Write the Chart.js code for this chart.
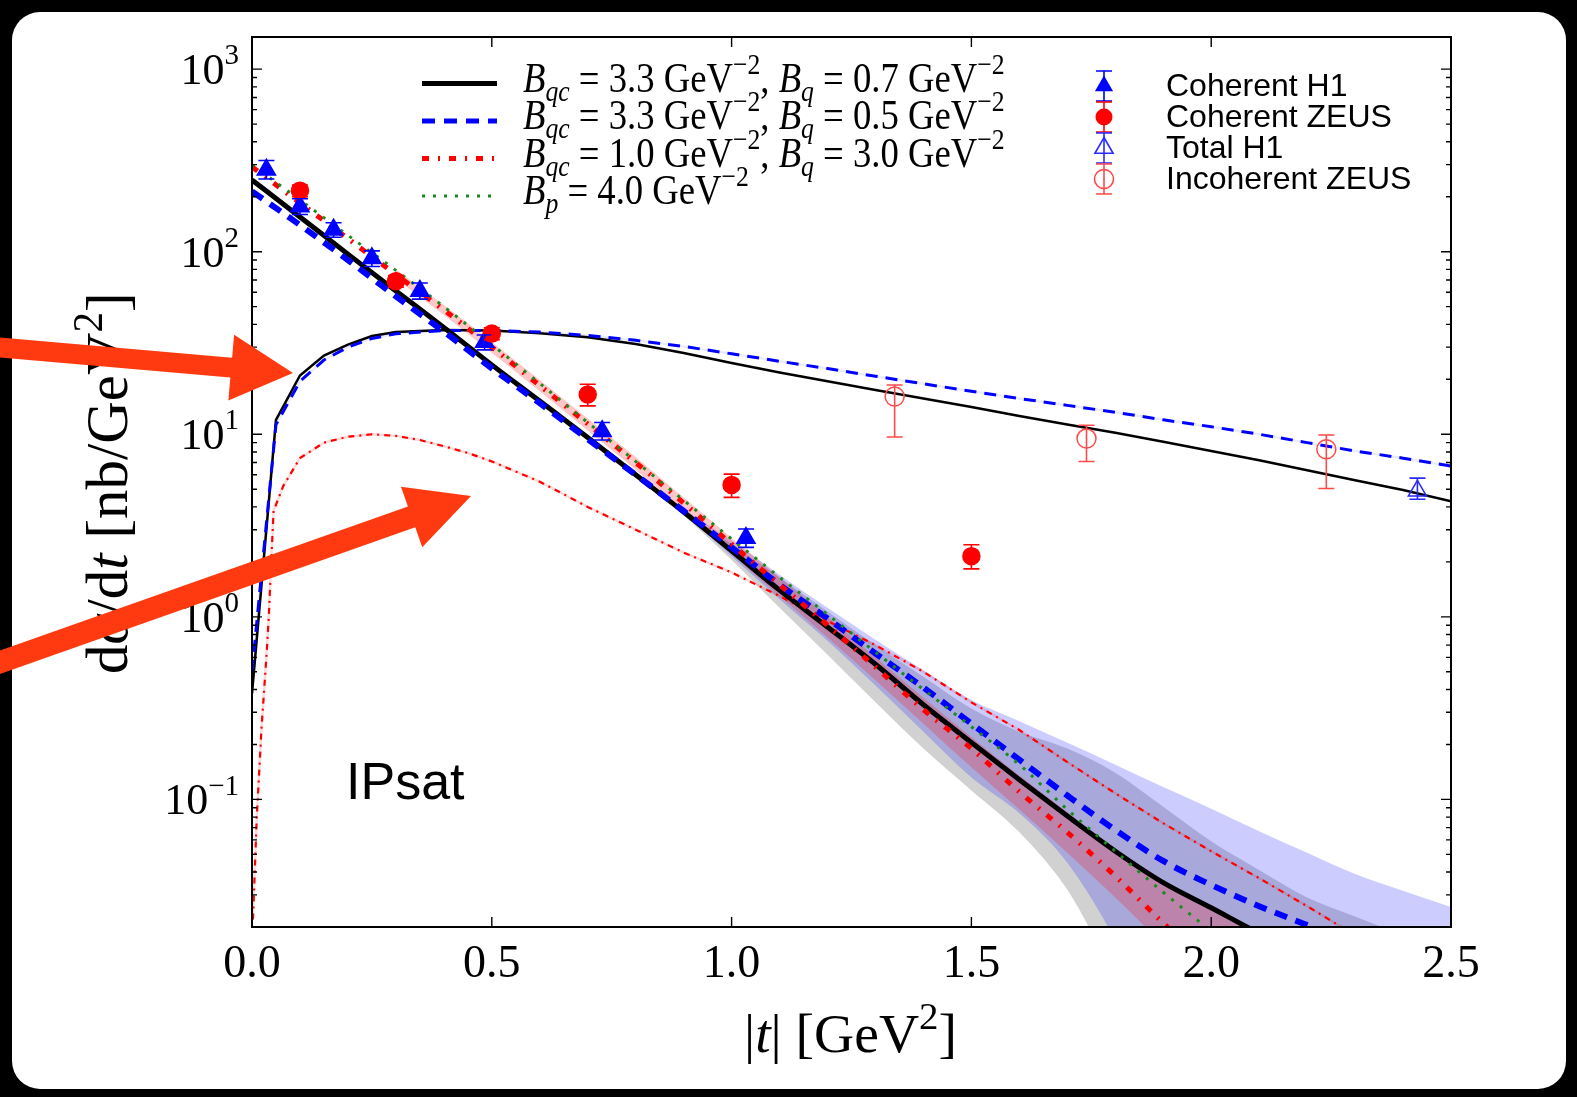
<!DOCTYPE html>
<html>
<head>
<meta charset="utf-8">
<script src="https://cdn.jsdelivr.net/npm/chart.js@4.4.1/dist/chart.umd.min.js"></script>
<style>
  html, body { margin: 0; padding: 0; background: #000; }
  #panel { position: absolute; left: 12px; top: 12px; width: 1554px; height: 1077px; background: #fff; border-radius: 28px; }
  #plot { position: absolute; left: 0; top: 0; }
</style>
</head>
<body>
<div id="panel"></div>
<canvas id="plot" width="1577" height="1097"></canvas>
<script>
// ---------- values ----------
// coherent curves, |t| grid
const tCoh = [0, 0.1, 0.2, 0.3, 0.4, 0.5, 0.6, 0.7, 0.8, 0.9, 1.0, 1.1, 1.2, 1.3, 1.4, 1.5, 1.6, 1.7, 1.8, 1.9, 2.0, 2.1, 2.2, 2.3];
const cohBlack = [247, 155, 97, 61, 38.5, 24, 15.2, 9.6, 6.0, 3.75, 2.3, 1.4, 0.88, 0.55, 0.33, 0.205, 0.128, 0.081, 0.052, 0.035, 0.0255, 0.0185, 0.014, 0.011];
const cohBlue = [214, 140, 90, 57, 36.5, 23, 14.8, 9.4, 6.0, 3.8, 2.4, 1.5, 0.98, 0.63, 0.41, 0.26, 0.165, 0.105, 0.068, 0.046, 0.034, 0.026, 0.0205, 0.016];
const cohRed = [292, 185, 118, 75, 48, 30, 18.5, 11.4, 7.0, 4.2, 2.5, 1.5, 0.9, 0.53, 0.31, 0.19, 0.11, 0.066, 0.038, 0.021, 0.012, 0.007, 0.004, 0.002];
const cohGreen = [300, 192, 123, 79, 50, 31, 19, 11.6, 7.1, 4.35, 2.67, 1.65, 1.03, 0.64, 0.40, 0.25, 0.155, 0.088, 0.052, 0.031, 0.019, 0.012, 0.008, 0.005];

// incoherent curves
const tInc = [0, 0.05, 0.1, 0.15, 0.2, 0.25, 0.3, 0.4, 0.5, 0.6, 0.7, 0.8, 0.9, 1.0, 1.1, 1.2, 1.3, 1.4, 1.5, 1.6, 1.7, 1.8, 1.9, 2.0, 2.1, 2.2, 2.3, 2.4, 2.5];
const incBlack = [0.38, 12, 21, 27, 31, 34.5, 36.3, 37.3, 37, 35.8, 34, 31.2, 27.9, 24.6, 21.8, 19.5, 17.5, 15.7, 14.1, 12.6, 11.3, 10.2, 9.1, 8.1, 7.2, 6.35, 5.6, 4.95, 4.3];
const incBlue = [0.5, 11.3, 19.5, 25.5, 30, 33.5, 35.5, 37, 37, 36.3, 34.8, 32.7, 30.3, 27.6, 25.1, 22.9, 20.8, 18.9, 17.2, 15.7, 14.4, 13.2, 12.0, 11.0, 10.0, 9.0, 8.1, 7.4, 6.7];
const tIncRed = [0.002, 0.01, 0.02, 0.03, 0.035, 0.04, 0.045, 0.065, 0.1, 0.15, 0.2, 0.25, 0.3, 0.35, 0.4, 0.45, 0.5, 0.6, 0.7, 0.8, 0.9, 1.0, 1.1, 1.2, 1.3, 1.4, 1.5, 1.6, 1.7, 1.8, 1.9, 2.0, 2.1, 2.2, 2.3];
const incRed = [0.022, 0.08, 0.25, 0.6, 1.0, 2.0, 3.8, 5.2, 7.4, 9.0, 9.7, 10.0, 9.8, 9.3, 8.6, 7.9, 7.1, 5.5, 4.0, 3.0, 2.25, 1.75, 1.3, 0.95, 0.7, 0.5, 0.34, 0.24, 0.16, 0.108, 0.074, 0.052, 0.037, 0.026, 0.018];

// uncertainty bands
const tBand = [0.9, 1.0, 1.1, 1.2, 1.3, 1.4, 1.5, 1.6, 1.7, 1.8, 1.9, 2.0, 2.1, 2.2, 2.3, 2.4, 2.5];
const grayLow = [3.6, 2.05, 1.12, 0.62, 0.34, 0.19, 0.112, 0.066, 0.032, 0.011, 0.005, 0.005, 0.005, 0.005, 0.005, 0.005, 0.005];
const grayHigh = [3.85, 2.5, 1.65, 1.07, 0.7, 0.47, 0.315, 0.235, 0.19, 0.14, 0.091, 0.059, 0.041, 0.029, 0.0228, 0.018, 0.014];
const blueLow = [3.7, 2.15, 1.25, 0.74, 0.42, 0.235, 0.132, 0.084, 0.045, 0.017, 0.005, 0.005, 0.005, 0.005, 0.005, 0.005, 0.005];
const blueHigh = [3.9, 2.62, 1.7, 1.12, 0.75, 0.51, 0.35, 0.268, 0.204, 0.155, 0.117, 0.089, 0.067, 0.051, 0.039, 0.0316, 0.0257];
const tPink = [0.3, 0.4, 0.5, 0.6, 0.7, 0.8, 0.9, 1.0, 1.1, 1.2, 1.3, 1.4, 1.5, 1.6, 1.7, 1.8, 1.9, 2.0, 2.1];
const pinkLow = [71, 45, 28, 17.2, 10.5, 6.4, 3.8, 2.2, 1.3, 0.77, 0.45, 0.26, 0.15, 0.088, 0.051, 0.029, 0.016, 0.009, 0.005];
const pinkHigh = [80, 51, 32, 19.8, 12.2, 7.5, 4.5, 2.7, 1.65, 1.0, 0.6, 0.36, 0.22, 0.135, 0.085, 0.054, 0.036, 0.025, 0.018];

// measurements
const h1T = [0.03, 0.1, 0.17, 0.25, 0.35, 0.485, 0.73, 1.03];
const h1Y = [281, 177, 132, 92, 61, 32, 10.4, 2.7];
const h1Lo = [250, 160, 120, 83, 55, 29, 9.3, 2.4];
const h1Hi = [316, 195, 144, 101, 67.4, 35, 11.6, 3.03];
const zeusT = [0.1, 0.3, 0.5, 0.7, 1.0, 1.5];
const zeusY = [216, 69, 35.6, 16.5, 5.28, 2.15];
const zeusLo = [200, 64, 33, 14.3, 4.51, 1.83];
const zeusHi = [232, 74, 38.3, 18.8, 6.05, 2.48];
const totH1T = [2.43];
const totH1Y = [4.9];
const totH1Lo = [4.41];
const totH1Hi = [5.75];
const incZeusT = [1.34, 1.74, 2.24];
const incZeusY = [16.1, 9.47, 8.28];
const incZeusLo = [9.67, 7.1, 5.05];
const incZeusHi = [18.6, 11.2, 9.9];

const xTicks = [0, 0.5, 1.0, 1.5, 2.0, 2.5];
const yDecades = [-1, 0, 1, 2, 3];

// ---------- helpers ----------
const SERIF = "'Liberation Serif', 'DejaVu Serif', serif";
const SANS = "'Liberation Sans', Arial, sans-serif";
const pts = (xs, ys) => xs.map((x, i) => ({ x: x, y: ys[i] }));

function line(xs, ys, color, width, dash, order, smooth) {
  return { data: pts(xs, ys), borderColor: color, borderWidth: width, borderDash: dash || [],
           pointRadius: 0, tension: 0, cubicInterpolationMode: smooth ? "monotone" : "default",
           fill: false, clip: 0, order: order };
}
function band(xs, ys, order, fillColor) {
  return { data: pts(xs, ys), borderColor: "rgba(0,0,0,0)", borderWidth: 1, pointRadius: 0,
           cubicInterpolationMode: "monotone", clip: 0, order: order,
           fill: fillColor ? "-1" : false, backgroundColor: fillColor };
}
function markers(xs, ys, style, radius, fillColor, strokeColor, order) {
  return { data: pts(xs, ys), showLine: false, pointStyle: style, pointRadius: radius,
           pointBackgroundColor: fillColor, pointBorderColor: strokeColor, pointBorderWidth: 1.5, order: order };
}

const errorSets = [
  { x: h1T, lo: h1Lo, hi: h1Hi, color: "#0000ff" },
  { x: zeusT, lo: zeusLo, hi: zeusHi, color: "#ff0000" },
  { x: totH1T, lo: totH1Lo, hi: totH1Hi, color: "#2a2aff" },
  { x: incZeusT, lo: incZeusLo, hi: incZeusHi, color: "#ff4a4a" },
];

function segFont(seg, size, family) {
  return (seg.it ? "italic " : "") + (size * (seg.s || 1)).toFixed(1) + "px " + family;
}
function richWidth(ctx, segs, size, family) {
  let w = 0;
  segs.forEach(seg => { ctx.font = segFont(seg, size, family); w += ctx.measureText(seg.t).width; });
  return w;
}
function drawRich(ctx, segs, x, y, size, family) {
  ctx.textAlign = "left";
  ctx.textBaseline = "alphabetic";
  segs.forEach(seg => {
    ctx.font = segFont(seg, size, family);
    ctx.fillText(seg.t, x, y + (seg.dy || 0) * size);
    x += ctx.measureText(seg.t).width;
  });
}
const SUB = { s: 0.7, dy: 0.22 };
const SUP = { s: 0.7, dy: -0.42 };
function bPart(sub, val) {
  return [{ t: "B", it: 1 }, Object.assign({ t: sub, it: 1 }, SUB), { t: " = " + val + " " },
          { t: "GeV" }, Object.assign({ t: "\u22122" }, SUP)];
}
const legendRows = [
  bPart("qc", "3.3").concat([{ t: ", " }], bPart("q", "0.7")),
  bPart("qc", "3.3").concat([{ t: ", " }], bPart("q", "0.5")),
  bPart("qc", "1.0").concat([{ t: ", " }], bPart("q", "3.0")),
  bPart("p", "4.0"),
];
const legendStyles = [
  { color: "#000", width: 5, dash: [] },
  { color: "#0000ff", width: 5, dash: [13, 9] },
  { color: "#ff0000", width: 5, dash: [7, 9, 2, 9] },
  { color: "#1a8a1a", width: 3, dash: [3, 8] },
];
const pointLegend = ["Coherent H1", "Coherent ZEUS", "Total H1", "Incoherent ZEUS"];

function drawArrow(ctx, x0, y0, x1, y1, w, hl, hw) {
  const len = Math.hypot(x1 - x0, y1 - y0);
  const ux = (x1 - x0) / len, uy = (y1 - y0) / len, px = -uy, py = ux;
  const bx = x1 - ux * hl, by = y1 - uy * hl;
  ctx.beginPath();
  ctx.moveTo(x0 + px * w / 2, y0 + py * w / 2);
  ctx.lineTo(bx + px * w / 2, by + py * w / 2);
  ctx.lineTo(bx + px * hw / 2, by + py * hw / 2);
  ctx.lineTo(x1, y1);
  ctx.lineTo(bx - px * hw / 2, by - py * hw / 2);
  ctx.lineTo(bx - px * w / 2, by - py * w / 2);
  ctx.lineTo(x0 - px * w / 2, y0 - py * w / 2);
  ctx.closePath();
  ctx.fill();
}
function errBar(ctx, x, y0, y1, cap) {
  ctx.beginPath();
  ctx.moveTo(x, y0); ctx.lineTo(x, y1);
  ctx.moveTo(x - cap, y0); ctx.lineTo(x + cap, y0);
  ctx.moveTo(x - cap, y1); ctx.lineTo(x + cap, y1);
  ctx.stroke();
}

// ---------- drawing on top of the datasets ----------
const decor = {
  id: "decor",
  afterDatasetsDraw(chart) {
    const ctx = chart.ctx, xs = chart.scales.x, ys = chart.scales.y, a = chart.chartArea;
    ctx.save();
    ctx.beginPath();
    ctx.rect(a.left, a.top, a.right - a.left, a.bottom - a.top);
    ctx.clip();
    ctx.lineWidth = 1.6;
    errorSets.forEach(s => {
      ctx.strokeStyle = s.color;
      s.x.forEach((x, i) => errBar(ctx, xs.getPixelForValue(x), ys.getPixelForValue(s.hi[i]), ys.getPixelForValue(s.lo[i]), 8));
    });
    ctx.restore();
  },
  afterDraw(chart) {
    const ctx = chart.ctx, xs = chart.scales.x, ys = chart.scales.y, a = chart.chartArea;
    ctx.save();
    ctx.fillStyle = "#000";
    ctx.strokeStyle = "#000";

    // frame and inward ticks
    ctx.lineWidth = 1.4;
    xTicks.forEach(v => {
      const px = xs.getPixelForValue(v);
      ctx.beginPath();
      ctx.moveTo(px, a.bottom); ctx.lineTo(px, a.bottom - 10);
      ctx.moveTo(px, a.top); ctx.lineTo(px, a.top + 10);
      ctx.stroke();
    });
    for (let n = -2; n <= 3; n++) {
      for (let k = 1; k <= 9; k++) {
        const v = k * Math.pow(10, n);
        if (v < 0.02 || v > 1500) continue;
        const py = ys.getPixelForValue(v), len = k === 1 ? 10 : 5;
        ctx.beginPath();
        ctx.moveTo(a.left, py); ctx.lineTo(a.left + len, py);
        ctx.moveTo(a.right, py); ctx.lineTo(a.right - len, py);
        ctx.stroke();
      }
    }
    ctx.lineWidth = 2;
    ctx.strokeRect(a.left, a.top, a.right - a.left, a.bottom - a.top);

    // y tick labels 10^n
    yDecades.forEach(n => {
      const segs = [{ t: "10" }, { t: n < 0 ? "\u2212" + (-n) : String(n), s: 0.66, dy: -0.45 }];
      const w = richWidth(ctx, segs, 44, SERIF);
      drawRich(ctx, segs, 239 - w, ys.getPixelForValue(Math.pow(10, n)) + 15, 44, SERIF);
    });

    // axis titles
    const yTitle = [{ t: "d" }, { t: "\u03c3", it: 1 }, { t: "/d" }, { t: "t", it: 1 }, { t: " [nb/GeV" },
                    Object.assign({ t: "2" }, SUP), { t: "]" }];
    let size = 40 * 382 / richWidth(ctx, yTitle, 40, SERIF);
    ctx.save();
    ctx.translate(127, 483);
    ctx.rotate(-Math.PI / 2);
    drawRich(ctx, yTitle, -191, 0, size, SERIF);
    ctx.restore();
    const xTitle = [{ t: "|" }, { t: "t", it: 1 }, { t: "| [GeV" }, Object.assign({ t: "2" }, SUP), { t: "]" }];
    size = 40 * 213 / richWidth(ctx, xTitle, 40, SERIF);
    drawRich(ctx, xTitle, 744, 1052, size, SERIF);

    // model legend (text stretched a little to the taller TeX look)
    size = 30 * 482 / richWidth(ctx, legendRows[0], 30, SERIF);
    legendRows.forEach((segs, i) => {
      const lineY = 83.5 + i * 37.5, st = legendStyles[i];
      ctx.save();
      ctx.strokeStyle = st.color; ctx.lineWidth = st.width; ctx.setLineDash(st.dash);
      ctx.beginPath(); ctx.moveTo(422, lineY); ctx.lineTo(497, lineY); ctx.stroke();
      ctx.restore();
      ctx.save();
      ctx.translate(523, lineY + 8);
      ctx.scale(1, 1.15);
      drawRich(ctx, segs, 0, 0, size, SERIF);
      ctx.restore();
    });

    // data legend
    ctx.font = "32px " + SANS;
    ctx.textBaseline = "middle";
    ctx.textAlign = "left";
    const rowsY = [86, 117, 148, 179], mx = 1104;
    ctx.lineWidth = 1.6;
    ctx.strokeStyle = "#0000ff"; errBar(ctx, mx, rowsY[0] - 15, rowsY[0] + 15, 8);
    ctx.strokeStyle = "#ff0000"; errBar(ctx, mx, rowsY[1] - 15, rowsY[1] + 15, 8);
    ctx.strokeStyle = "#2a2aff"; errBar(ctx, mx, rowsY[2] - 15, rowsY[2] + 15, 8);
    ctx.strokeStyle = "#ff4a4a"; errBar(ctx, mx, rowsY[3] - 15, rowsY[3] + 15, 8);
    const tri = (cx, cy, r) => {
      ctx.beginPath();
      for (let k = 0; k < 3; k++) {
        const ang = k * 2 * Math.PI / 3;
        ctx[k ? "lineTo" : "moveTo"](cx + Math.sin(ang) * r, cy - Math.cos(ang) * r);
      }
      ctx.closePath();
    };
    ctx.fillStyle = "#0000ff"; tri(mx, rowsY[0], 10.5); ctx.fill();
    ctx.fillStyle = "#ff0000"; ctx.beginPath(); ctx.arc(mx, rowsY[1], 8.5, 0, 2 * Math.PI); ctx.fill();
    ctx.strokeStyle = "#2a2aff"; tri(mx, rowsY[2], 10.5); ctx.stroke();
    ctx.strokeStyle = "#ff4a4a"; ctx.beginPath(); ctx.arc(mx, rowsY[3], 9.5, 0, 2 * Math.PI); ctx.stroke();
    ctx.fillStyle = "#000";
    pointLegend.forEach((txt, i) => ctx.fillText(txt, 1166, rowsY[i] + 1));

    // model label
    ctx.font = "52px " + SANS;
    ctx.textBaseline = "alphabetic";
    ctx.fillText("IPsat", 346, 799);

    // annotation arrows
    ctx.fillStyle = "#ff3a10";
    drawArrow(ctx, -5, 347, 293, 373, 20, 62, 66);
    drawArrow(ctx, -5, 664, 471, 496, 22, 63, 64);
    ctx.restore();
  }
};

// ---------- chart ----------
const datasets = [
  band(tBand, grayLow, 40, null),
  band(tBand, grayHigh, 40, "rgba(0,0,0,0.18)"),
  band(tBand, blueLow, 39, null),
  band(tBand, blueHigh, 39, "rgba(0,0,255,0.2)"),
  band(tPink, pinkLow, 38, null),
  band(tPink, pinkHigh, 38, "rgba(255,0,0,0.22)"),
  line(tIncRed, incRed, "rgba(255,0,0,0.15)", 2.5, [], 31, false),
  line(tIncRed, incRed, "#ff0000", 2.2, [6, 5, 2, 5], 30, false),
  line(tInc, incBlue, "rgba(0,0,255,0.08)", 2.5, [], 29, false),
  line(tInc, incBlack, "#000", 2.5, [], 28, false),
  line(tInc, incBlue, "#0000ff", 3, [12, 8], 27, false),
  line(tCoh, cohBlack, "#000", 5, [], 20, true),
  line(tCoh, cohBlue, "#0000ff", 6, [13, 9], 19, true),
  line(tCoh, cohRed, "#ff0000", 5, [7, 9, 2, 9], 18, true),
  line(tCoh, cohGreen, "#1a8a1a", 3, [3, 8], 17, true),
  markers(h1T, h1Y, "triangle", 10.5, "#0000ff", "#0000ff", 4),
  markers(zeusT, zeusY, "circle", 8.5, "#ff0000", "#ff0000", 3),
  markers(totH1T, totH1Y, "triangle", 10.5, "rgba(0,0,0,0)", "#2a2aff", 2),
  markers(incZeusT, incZeusY, "circle", 9.5, "rgba(0,0,0,0)", "#ff4a4a", 1),
];

new Chart(document.getElementById("plot"), {
  type: "line",
  data: { datasets: datasets },
  options: {
    responsive: false,
    animation: false,
    events: [],
    layout: { padding: { left: 0, top: 37, right: 126, bottom: 0 } },
    scales: {
      x: {
        type: "linear", min: 0, max: 2.5,
        grid: { display: false, drawTicks: false }, border: { display: false },
        ticks: {
          stepSize: 0.5, autoSkip: false, maxRotation: 0, padding: 10, color: "#000",
          font: { family: SERIF, size: 46 },
          callback: v => v.toFixed(1),
        },
        afterFit: s => { s.height = 170; },
      },
      y: {
        type: "logarithmic", min: 0.02, max: 1500,
        grid: { display: false, drawTicks: false }, border: { display: false },
        ticks: { display: false },
        afterFit: s => { s.width = 252; },
      },
    },
    plugins: { legend: { display: false }, tooltip: { enabled: false } },
  },
  plugins: [decor],
});
</script>
</body>
</html>
